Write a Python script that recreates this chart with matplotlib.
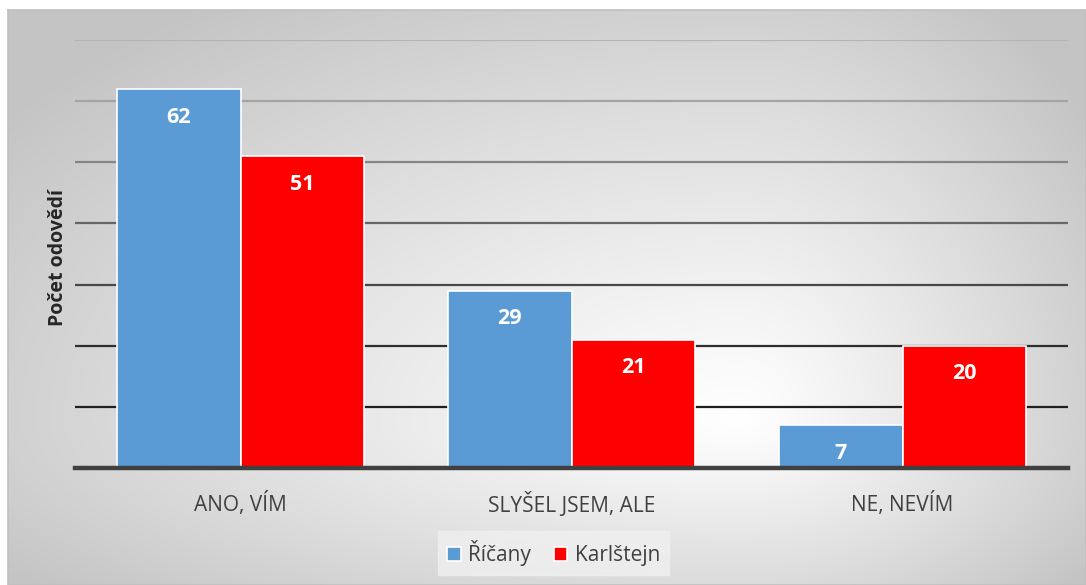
import numpy as np
import matplotlib.pyplot as plt

categories = ["ANO, VÍM", "SLYŠEL JSEM, ALE", "NE, NEVÍM"]
ricany = [62, 29, 7]
karlstejn = [51, 21, 20]
series_names = ["Říčany", "Karlštejn"]
ylabel = "Počet odovědí"

plt.rcParams['font.family'] = ['Open Sans', 'DejaVu Sans']

W, H = 1086, 585
fig = plt.figure(figsize=(W / 100, H / 100), dpi=100)

# background card with radial-ish gradient
bg = fig.add_axes([0, 0, 1, 1], zorder=-10)
bg.set_xlim(0, W)
bg.set_ylim(H, 0)
bg.axis('off')
xx, yy = np.meshgrid(np.arange(W), np.arange(H))
cx, cy = 740, 420
u = np.where(xx < cx, (cx - xx) / (cx - 8), (xx - cx) / (W - cx))
v = np.where(yy < cy, (cy - yy) / (cy - 10), (yy - cy) / (H - cy + 40))
d = np.clip(np.sqrt(u ** 2 + v ** 2) / 1.25, 0, 1)
shade = 1.0 - 0.23 * d ** 1.1
img = np.dstack([shade, shade, shade])
img[:10, :, :] = 1.0
img[:, :8, :] = 1.0
bg.imshow(img, extent=(0, W, H, 0), aspect='auto', interpolation='bilinear')
bg.plot([8, W, W, 8, 8], [10, 10, H, H, 10], color='#c0c0c0', lw=1.2)

ax = fig.add_axes([75 / W, 1 - 468 / H, (1068 - 75) / W, (468 - 40) / H])
ax.set_facecolor('none')

x = np.arange(len(categories))
w = 0.372
b1 = ax.bar(x - w / 2, ricany, w, color='#5b9bd5', edgecolor='white', linewidth=1.2,
            label=series_names[0], zorder=3)
b2 = ax.bar(x + w / 2, karlstejn, w, color='#ff0000', edgecolor='white', linewidth=1.2,
            label=series_names[1], zorder=3)

for bars in (b1, b2):
    for r in bars:
        h = r.get_height()
        ax.text(r.get_x() + r.get_width() / 2, h - 4.6, str(int(h)), ha='center', va='center',
                color='white', fontsize=15.5, fontweight='bold', zorder=4)

grid_colors = ['#b4b4b4', '#a4a4a4', '#858585', '#666666', '#484848', '#2e2e2e', '#202020']
for val, col in zip(range(70, 0, -10), grid_colors):
    ax.axhline(val, color=col, lw=1.6, zorder=1)
ax.axhline(0, color='#404040', lw=3.2, zorder=5, clip_on=False)

ax.set_xlim(-0.5, 2.5)
ax.set_ylim(0, 70)
ax.set_yticks([])
ax.set_xticks(x)
ax.set_xticklabels(categories, fontsize=15, color='#404040')
ax.tick_params(axis='x', length=0, pad=17)
for s in ax.spines.values():
    s.set_visible(False)

fig.text(58 / W, 1 - 257 / H, ylabel, rotation=90, ha='center', va='center',
         fontsize=14, fontweight='bold', color='#262626')

leg = ax.legend(loc='center', bbox_to_anchor=(553.5 / W, 1 - 553 / H),
                bbox_transform=fig.transFigure, ncol=2, frameon=True, fontsize=15,
                handlelength=0.65, handleheight=0.65, handletextpad=0.35, columnspacing=1.1,
                borderpad=0.45, fancybox=False)
leg.get_frame().set_facecolor('#f0f0f0')
leg.get_frame().set_edgecolor('#f0f0f0')
for t in leg.get_texts():
    t.set_color('#404040')

fig.savefig('out.png', dpi=100)
